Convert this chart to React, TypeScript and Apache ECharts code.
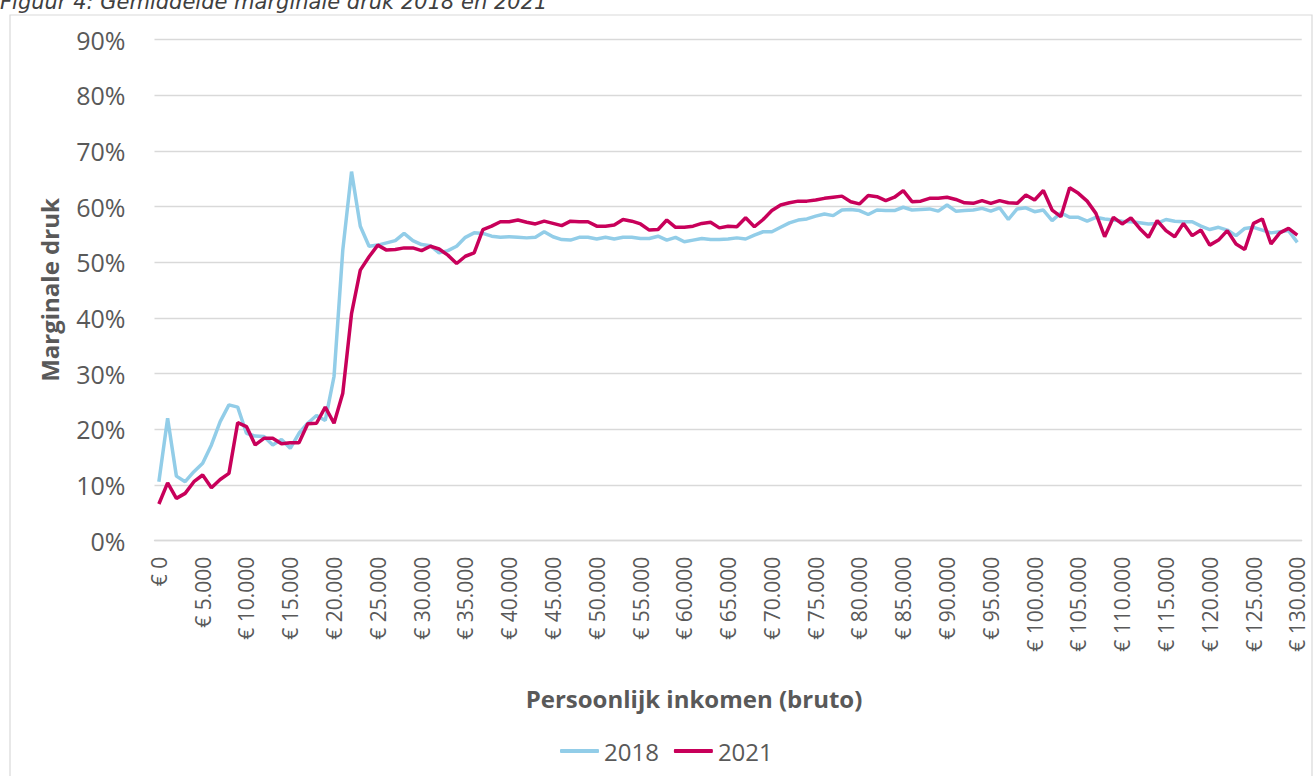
import React, { useEffect, useRef } from "react";
import * as echarts from "echarts";

const incomes: number[] = Array.from({ length: 131 }, (_, i) => i * 1000);
const categories: string[] = incomes.map(
  (v) => "€ " + v.toString().replace(/\B(?=(\d{3})+(?!\d))/g, ".")
);

const yTicks = { min: 0, max: 90, interval: 10 };

const series2018: number[] = [
  10.6, 22.0, 11.6, 10.6, 12.4, 13.9, 17.2, 21.4, 24.4, 24.0,
  19.3, 18.8, 18.7, 17.2, 18.2, 16.6, 19.3, 21.1, 22.5, 21.6,
  29.5, 52.2, 66.3, 56.5, 52.9, 53.1, 53.5, 53.9, 55.2, 53.9,
  53.2, 53.0, 51.7, 52.1, 52.9, 54.5, 55.3, 55.2, 54.7, 54.5,
  54.6, 54.5, 54.4, 54.5, 55.5, 54.6, 54.1, 54.0, 54.5, 54.5,
  54.2, 54.5, 54.2, 54.5, 54.5, 54.3, 54.3, 54.7, 54.0, 54.5,
  53.7, 54.0, 54.3, 54.1, 54.1, 54.2, 54.4, 54.2, 54.9, 55.5,
  55.5, 56.3, 57.1, 57.6, 57.8, 58.3, 58.7, 58.4, 59.4, 59.5,
  59.3, 58.6, 59.4, 59.3, 59.3, 59.9, 59.4, 59.5, 59.6, 59.2,
  60.3, 59.2, 59.3, 59.4, 59.7, 59.2, 59.8, 57.7, 59.6, 59.8,
  59.1, 59.4, 57.5, 58.9, 58.1, 58.1, 57.4, 58.1, 57.8, 57.6,
  57.4, 57.3, 57.1, 56.9, 57.0, 57.7, 57.4, 57.3, 57.3, 56.5,
  55.9, 56.3, 55.8, 54.8, 56.1, 56.3, 55.8, 55.3, 55.5, 55.7,
  53.6,
];

const series2021: number[] = [
  6.6, 10.4, 7.6, 8.5, 10.6, 11.8, 9.5, 11.0, 12.1, 21.2,
  20.5, 17.2, 18.4, 18.4, 17.4, 17.6, 17.6, 21.0, 21.1, 24.0,
  21.1, 26.5, 40.8, 48.6, 51.0, 53.1, 52.2, 52.3, 52.6, 52.6,
  52.1, 52.9, 52.4, 51.3, 49.8, 51.1, 51.7, 55.9, 56.5, 57.3,
  57.3, 57.6, 57.2, 56.9, 57.4, 57.0, 56.6, 57.4, 57.3, 57.3,
  56.5, 56.5, 56.7, 57.7, 57.4, 56.9, 55.8, 55.9, 57.6, 56.3,
  56.3, 56.5, 57.0, 57.2, 56.2, 56.5, 56.4, 58.0, 56.4, 57.7,
  59.3, 60.3, 60.7, 61.0, 61.0, 61.2, 61.5, 61.7, 61.9, 60.9,
  60.5, 62.0, 61.8, 61.1, 61.7, 62.9, 60.9, 61.0, 61.5, 61.5,
  61.7, 61.3, 60.7, 60.6, 61.1, 60.6, 61.1, 60.7, 60.6, 62.1,
  61.2, 62.9, 59.4, 58.2, 63.4, 62.4, 61.0, 58.8, 54.6, 58.1,
  56.9, 58.0, 56.1, 54.5, 57.5, 55.7, 54.6, 57.0, 54.8, 55.8,
  53.1, 54.0, 55.7, 53.3, 52.3, 57.0, 57.8, 53.3, 55.3, 56.1,
  54.9,
];

const seriesNames = ["2018", "2021"];
const colors = ["#92cde8", "#c8005a"];

const TEXT = "#595959";
const FONT = "'Open Sans', 'Noto Sans', sans-serif";

export default function App() {
  const ref = useRef<HTMLDivElement>(null);

  useEffect(() => {
    if (!ref.current) return;
    const chart = echarts.init(ref.current, undefined, { renderer: "svg" });
    chart.setOption({
      animation: false,
      backgroundColor: "#ffffff",
      textStyle: { fontFamily: FONT },
      grid: { left: 154.5, right: 11.3, top: 39.7, bottom: 235.3 },
      graphic: [
        {
          type: "rect",
          shape: { x: 10, y: 15, width: 1302, height: 800 },
          style: { fill: "none", stroke: "#d9d9d9", lineWidth: 1.2 },
          silent: true,
        },
        {
          type: "text",
          x: 0,
          y: 2,
          style: {
            text: "Figuur 4: Gemiddelde marginale druk 2018 en 2021",
            font: "italic 21px 'DejaVu Sans', Verdana, sans-serif",
            fill: "#404040",
            align: "left",
            verticalAlign: "middle",
          },
        },
        {
          type: "text",
          x: 49,
          y: 290,
          rotation: Math.PI / 2,
          style: {
            text: "Marginale druk",
            font: `bold 24px ${FONT}`,
            fill: TEXT,
            align: "center",
            verticalAlign: "middle",
          },
        },
        {
          type: "text",
          x: 694,
          y: 698,
          style: {
            text: "Persoonlijk inkomen (bruto)",
            font: `bold 24px ${FONT}`,
            fill: TEXT,
            align: "center",
            verticalAlign: "middle",
          },
        },
      ],
      legend: {
        data: seriesNames,
        left: 555,
        top: 734,
        icon: "roundRect",
        itemWidth: 39,
        itemHeight: 4,
        itemGap: 15,
        textStyle: { color: TEXT, fontSize: 24, fontFamily: FONT },
      },
      xAxis: {
        type: "category",
        data: categories,
        boundaryGap: true,
        axisLine: { show: true, lineStyle: { color: "#d9d9d9", width: 1.3 } },
        axisTick: { show: false },
        axisLabel: {
          interval: 4,
          rotate: 90,
          margin: 16,
          color: TEXT,
          fontSize: 21,
          fontFamily: FONT,
        },
        splitLine: { show: false },
      },
      yAxis: {
        type: "value",
        min: yTicks.min,
        max: yTicks.max,
        interval: yTicks.interval,
        axisLine: { show: false },
        axisTick: { show: false },
        axisLabel: {
          formatter: "{value}%",
          color: TEXT,
          fontSize: 25,
          fontFamily: FONT,
          margin: 29,
        },
        splitLine: { lineStyle: { color: "#d9d9d9", width: 1.3 } },
      },
      series: [
        {
          name: seriesNames[0],
          type: "line",
          data: series2018,
          symbol: "none",
          color: colors[0],
          lineStyle: { color: colors[0], width: 3.5 },
        },
        {
          name: seriesNames[1],
          type: "line",
          data: series2021,
          symbol: "none",
          color: colors[1],
          lineStyle: { color: colors[1], width: 3.5 },
        },
      ],
    });
    return () => chart.dispose();
  }, []);

  return (
    <div
      ref={ref}
      style={{ position: "fixed", left: 0, top: 0, width: 1313, height: 776 }}
    />
  );
}
